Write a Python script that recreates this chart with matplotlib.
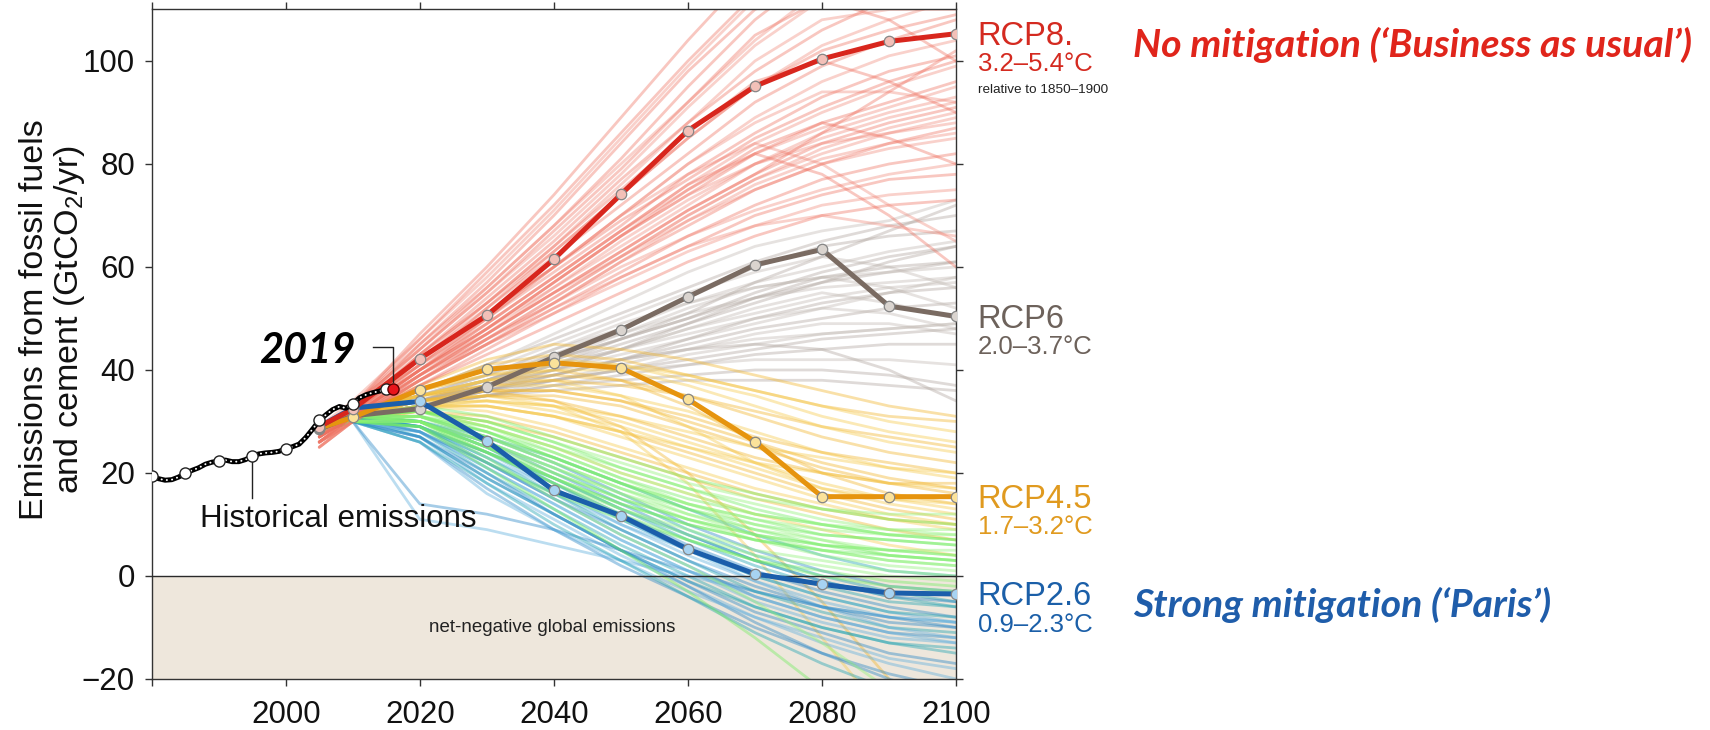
import matplotlib
matplotlib.use('Agg')
import matplotlib.pyplot as plt

plt.rcParams['font.family'] = ['Liberation Sans', 'DejaVu Sans']
plt.rcParams['mathtext.default'] = 'regular'

# ---------------- data ----------------
HIST_YEARS = list(range(1980, 2017))
HIST_VALUES = [19.4, 18.9, 18.6, 18.7, 19.2, 19.9, 20.5, 21.0, 21.7, 22.1,
               22.3, 22.5, 22.2, 22.2, 22.6, 23.3, 23.7, 23.9, 24.0, 24.2,
               24.7, 25.1, 25.6, 26.9, 28.5, 30.2, 31.3, 32.3, 32.9, 32.6,
               33.4, 34.6, 35.2, 35.6, 35.9, 36.3, 36.4]
HIST_MARKER_YEARS = [1980, 1985, 1990, 1995, 2000, 2005, 2010, 2015]
LAST_YEAR = 2016
LAST_VALUE = 36.4

RCP_YEARS = [2005, 2010, 2020, 2030, 2040, 2050, 2060, 2070, 2080, 2090, 2100]
RCP85 = [29.0, 32.4, 42.2, 50.6, 61.5, 74.1, 86.5, 95.1, 100.4, 103.8, 105.3]
RCP60 = [28.5, 31.1, 32.5, 36.7, 42.5, 47.8, 54.2, 60.4, 63.4, 52.4, 50.4]
RCP45 = [28.7, 30.8, 36.2, 40.1, 41.4, 40.4, 34.3, 26.1, 15.4, 15.4, 15.4]
RCP26 = [29.0, 32.6, 33.9, 26.2, 16.6, 11.7, 5.2, 0.4, -1.6, -3.3, -3.5]

FAN_YEARS = RCP_YEARS

RED_FAN = [
    [28, 33, 47, 60, 74, 89, 104, 118, 130, 140, 150],
    [29, 34, 46, 58, 71, 85, 99, 112, 124, 132, 140],
    [27, 32, 45, 56, 68, 81, 95, 108, 118, 126, 132],
    [28, 33, 44, 55, 66, 78, 91, 103, 112, 118, 122],
    [26, 31, 43, 54, 65, 77, 88, 98, 106, 112, 116],
    [27, 32, 43, 53, 63, 74, 85, 95, 103, 108, 112],
    [28, 32, 42, 52, 62, 72, 82, 92, 99, 104, 108],
    [26, 31, 42, 51, 60, 70, 80, 89, 96, 101, 104],
    [27, 32, 41, 50, 59, 68, 78, 86, 93, 98, 101],
    [28, 32, 41, 49, 58, 67, 76, 84, 90, 95, 99],
    [26, 31, 40, 48, 57, 66, 74, 82, 88, 92, 96],
    [27, 31, 40, 48, 56, 64, 72, 80, 86, 90, 93],
    [25, 30, 39, 47, 55, 63, 71, 78, 84, 88, 91],
    [27, 31, 39, 46, 54, 62, 70, 77, 82, 86, 89],
    [26, 30, 38, 46, 53, 61, 68, 75, 80, 84, 87],
    [28, 32, 40, 47, 55, 62, 69, 75, 80, 83, 85],
    [26, 30, 38, 45, 52, 59, 66, 72, 77, 80, 82],
    [27, 31, 39, 46, 53, 60, 66, 71, 75, 78, 80],
    [25, 30, 37, 44, 51, 58, 64, 70, 74, 77, 78],
    [27, 31, 38, 45, 51, 57, 63, 68, 72, 74, 75],
    [26, 30, 37, 43, 49, 55, 61, 66, 70, 72, 73],
    [28, 32, 41, 50, 60, 70, 78, 84, 80, 72, 65],
    [27, 31, 40, 49, 58, 67, 76, 82, 78, 70, 60],
    [26, 30, 39, 48, 57, 66, 74, 80, 84, 86, 88],
    [29, 33, 44, 55, 67, 79, 92, 105, 112, 108, 100],
    [27, 32, 42, 53, 64, 76, 88, 100, 108, 110, 110],
    [28, 33, 45, 57, 70, 84, 98, 110, 116, 118, 118],
    [26, 31, 40, 50, 60, 70, 80, 88, 94, 94, 92],
    [27, 31, 39, 47, 55, 63, 71, 78, 86, 94, 102],
    [25, 30, 38, 45, 52, 58, 64, 68, 70, 68, 66],
    [28, 33, 46, 59, 72, 86, 100, 113, 122, 128, 134],
    [27, 32, 44, 56, 68, 80, 92, 104, 114, 120, 126],
    [26, 31, 41, 52, 63, 74, 85, 95, 102, 106, 109],
    [27, 31, 40, 49, 58, 67, 75, 82, 87, 91, 95],
    [28, 32, 42, 51, 60, 69, 77, 85, 91, 96, 100],
    [26, 30, 39, 47, 56, 65, 73, 80, 85, 89, 92],
    [27, 31, 40, 48, 57, 66, 75, 83, 88, 85, 80],
    [25, 30, 38, 46, 54, 62, 70, 77, 83, 87, 90],
    [28, 32, 43, 53, 64, 75, 86, 96, 100, 96, 90],
    [26, 30, 38, 45, 53, 61, 69, 76, 81, 84, 86],
]

GRAY_FAN = [
    [29, 32, 36, 41, 46, 51, 56, 61, 65, 68, 70],
    [28, 31, 35, 39, 44, 48, 53, 57, 60, 63, 65],
    [29, 32, 35, 38, 42, 46, 50, 54, 57, 59, 61],
    [28, 31, 34, 37, 40, 44, 48, 51, 54, 56, 57],
    [29, 32, 34, 37, 39, 42, 45, 48, 50, 52, 53],
    [28, 31, 33, 36, 38, 40, 43, 45, 47, 48, 49],
    [28, 31, 33, 35, 37, 39, 41, 43, 44, 45, 45],
    [29, 32, 34, 36, 38, 40, 41, 42, 42, 42, 41],
    [28, 31, 33, 35, 36, 37, 38, 38, 38, 37, 36],
    [29, 32, 35, 38, 42, 47, 52, 56, 58, 56, 52],
    [28, 31, 34, 38, 43, 48, 54, 60, 64, 66, 67],
    [29, 32, 36, 40, 45, 50, 55, 59, 62, 60, 56],
    [28, 31, 33, 36, 39, 42, 44, 45, 44, 40, 34],
    [29, 32, 35, 39, 43, 47, 51, 54, 56, 57, 58],
    [28, 31, 34, 37, 41, 45, 49, 53, 57, 61, 64],
    [29, 32, 34, 36, 38, 41, 44, 47, 49, 49, 47],
    [28, 31, 33, 36, 40, 44, 49, 54, 58, 60, 61],
    [29, 32, 34, 37, 40, 43, 46, 49, 52, 55, 58],
    [28, 31, 33, 35, 37, 38, 39, 40, 40, 39, 37],
    [29, 32, 36, 41, 47, 53, 59, 64, 67, 69, 73],
    [28, 31, 34, 38, 42, 46, 50, 55, 59, 62, 64],
    [29, 32, 35, 39, 44, 49, 53, 56, 58, 59, 60],
    [28, 31, 33, 36, 39, 42, 46, 50, 53, 55, 56],
    [29, 32, 34, 37, 40, 42, 44, 46, 47, 48, 49],
    [28, 31, 34, 37, 41, 46, 51, 57, 62, 67, 72],
    [29, 32, 35, 38, 41, 44, 47, 50, 52, 51, 48],
    [28, 31, 33, 35, 38, 40, 42, 44, 46, 47, 48],
    [29, 32, 35, 38, 41, 44, 48, 52, 55, 53, 50],
]

YELLOW_FAN = [
    [28, 31, 37, 42, 45, 44, 42, 39, 36, 33, 31],
    [29, 32, 36, 40, 42, 41, 38, 35, 31, 28, 26],
    [28, 31, 35, 38, 39, 38, 35, 31, 27, 24, 22],
    [29, 32, 35, 37, 37, 35, 32, 28, 24, 21, 19],
    [28, 31, 34, 35, 35, 33, 29, 25, 21, 18, 16],
    [29, 31, 34, 34, 33, 30, 26, 22, 18, 15, 13],
    [28, 30, 33, 33, 31, 28, 24, 20, 16, 13, 11],
    [28, 31, 33, 32, 29, 25, 21, 17, 14, 11, 9],
    [29, 31, 32, 30, 27, 23, 19, 15, 12, 9, 7],
    [28, 30, 32, 29, 25, 20, 16, 12, 9, 6, 4],
    [29, 32, 36, 39, 40, 38, 33, 26, 20, 16, 14],
    [28, 31, 35, 38, 38, 35, 29, 22, 17, 15, 14],
    [29, 32, 35, 36, 34, 29, 20, 8, -5, -20, -35],
    [28, 31, 34, 35, 33, 28, 18, 4, -12, -28, -44],
    [29, 31, 34, 36, 36, 34, 31, 27, 24, 22, 20],
    [28, 31, 33, 34, 33, 31, 28, 25, 23, 21, 20],
    [29, 32, 35, 37, 38, 37, 35, 32, 29, 27, 25],
    [28, 30, 33, 33, 31, 28, 25, 22, 20, 18, 17],
    [28, 31, 36, 41, 43, 42, 39, 36, 33, 31, 30],
    [29, 32, 35, 38, 40, 40, 37, 33, 29, 26, 24],
    [28, 31, 34, 36, 36, 34, 30, 26, 22, 19, 17],
    [29, 31, 33, 34, 32, 29, 25, 21, 17, 14, 12],
    [28, 30, 32, 31, 28, 24, 20, 16, 13, 11, 10],
    [29, 32, 36, 39, 41, 41, 39, 36, 33, 30, 28],
    [28, 31, 34, 35, 34, 31, 27, 23, 20, 18, 18],
    [29, 31, 33, 33, 31, 27, 23, 19, 15, 12, 10],
]

GREEN_FAN = [
    [28, 31, 33, 31, 27, 23, 19, 16, 13, 11, 10],
    [29, 31, 32, 29, 25, 21, 17, 14, 11, 9, 8],
    [28, 30, 31, 28, 23, 18, 14, 11, 8, 7, 6],
    [28, 31, 31, 26, 21, 16, 12, 9, 7, 5, 4],
    [29, 31, 30, 25, 19, 14, 10, 7, 5, 3, 2],
    [28, 30, 30, 24, 18, 13, 9, 5, 3, 1, 0],
    [28, 30, 29, 22, 16, 11, 7, 3, 1, -1, -2],
    [29, 31, 30, 23, 15, 8, 2, -5, -13, -22, -30],
    [28, 30, 29, 21, 13, 5, -3, -12, -22, -32, -40],
    [28, 31, 32, 30, 26, 22, 18, 15, 13, 12, 12],
    [29, 31, 31, 27, 22, 17, 13, 10, 8, 7, 6],
    [28, 30, 30, 26, 20, 15, 11, 8, 6, 5, 5],
    [28, 31, 31, 28, 24, 19, 15, 12, 10, 8, 7],
    [29, 31, 30, 26, 21, 16, 11, 7, 4, 2, 1],
    [28, 30, 29, 24, 19, 14, 10, 7, 5, 4, 3],
    [29, 31, 32, 29, 24, 19, 14, 10, 7, 4, 3],
    [28, 31, 32, 30, 26, 21, 17, 13, 10, 8, 7],
    [29, 31, 31, 27, 23, 18, 14, 11, 9, 8, 8],
    [28, 30, 30, 25, 20, 15, 11, 8, 6, 4, 3],
    [28, 31, 31, 27, 22, 17, 12, 8, 5, 3, 2],
    [29, 31, 30, 24, 18, 12, 7, 3, 0, -2, -3],
    [28, 30, 31, 29, 25, 20, 16, 12, 10, 9, 9],
    [29, 31, 32, 28, 23, 18, 13, 9, 6, 5, 4],
    [28, 30, 30, 25, 19, 13, 8, 4, 2, 0, -1],
]

BLUE_FAN = [
    [28, 31, 31, 27, 22, 16, 10, 5, 1, -2, -3],
    [29, 31, 30, 25, 19, 13, 7, 2, -2, -5, -6],
    [28, 30, 29, 23, 17, 10, 4, -1, -5, -8, -9],
    [28, 31, 29, 22, 15, 8, 2, -4, -8, -11, -12],
    [29, 31, 28, 20, 13, 6, 0, -6, -10, -13, -15],
    [28, 30, 27, 18, 11, 4, -2, -8, -12, -16, -18],
    [28, 30, 26, 17, 9, 2, -4, -10, -15, -19, -22],
    [29, 31, 30, 26, 21, 15, 9, 4, 0, -3, -5],
    [28, 30, 28, 22, 16, 10, 5, 0, -4, -7, -9],
    [28, 31, 29, 24, 18, 12, 6, 1, -3, -6, -8],
    [29, 31, 27, 19, 12, 5, -1, -6, -10, -13, -14],
    [28, 30, 11, 9, 6, 3, 0, -3, -6, -8, -9],
    [28, 30, 14, 12, 9, 5, 1, -3, -6, -8, -10],
    [29, 31, 30, 27, 23, 18, 13, 8, 4, 1, 0],
    [28, 30, 28, 21, 14, 7, 1, -5, -9, -12, -13],
    [28, 30, 27, 20, 12, 5, -2, -9, -15, -20, -24],
    [29, 31, 29, 24, 19, 13, 8, 3, -1, -4, -6],
    [28, 30, 26, 16, 9, 3, -3, -8, -13, -17, -20],
    [28, 31, 30, 26, 20, 14, 8, 3, -1, -4, -5],
    [29, 31, 29, 23, 16, 9, 3, -3, -7, -10, -11],
    [28, 30, 28, 21, 14, 7, 1, -4, -8, -11, -13],
    [28, 30, 27, 19, 12, 5, -1, -7, -11, -15, -17],
    [29, 31, 30, 25, 18, 11, 5, 0, -4, -7, -8],
    [28, 30, 29, 24, 17, 11, 5, -1, -6, -10, -12],
    [28, 31, 28, 22, 15, 9, 3, -2, -6, -9, -10],
    [29, 30, 26, 18, 10, 3, -4, -11, -17, -22, -26],
]

X_TICKS = [1980, 2000, 2020, 2040, 2060, 2080, 2100]
X_TICK_LABELS = ['', '2000', '2020', '2040', '2060', '2080', '2100']
Y_TICKS = [-20, 0, 20, 40, 60, 80, 100]

# ---------------- figure ----------------
fig = plt.figure(figsize=(17.1, 7.3), dpi=100)
ax = fig.add_axes([0.0887, 0.0699, 0.4704, 0.9171])
ax.set_xlim(1980, 2100)
ax.set_ylim(-20, 110)

ax.axhspan(-20, 0, color='#EEE7DC', lw=0, zorder=0)

fan_groups = [
    (GRAY_FAN, ['#B3A9A2', '#C4BCB6'], 0.42),
    (YELLOW_FAN, ['#F2B730', '#F6CB50'], 0.42),
    (BLUE_FAN, ['#2A86C6', '#1FA2B2', '#5FAEDD'], 0.42),
    (GREEN_FAN, ['#72EC62', '#92F27A'], 0.42),
    (RED_FAN, ['#EE6452', '#F08070'], 0.36),
]
for fan, cols, a in fan_groups:
    for i, vals in enumerate(fan):
        ax.plot(FAN_YEARS, vals, color=cols[i % len(cols)], alpha=a, lw=2.0,
                zorder=2, solid_capstyle='round')

ax.axhline(0, color='#2a2a2a', lw=1.0, zorder=3)

rcp_styles = [
    (RCP60, '#7A6B62', '#DAD4CF'),
    (RCP45, '#E6940E', '#FBE29A'),
    (RCP26, '#1B5EAB', '#A7D3F2'),
    (RCP85, '#D8261D', '#F3C0B8'),
]
for vals, lc, fc in rcp_styles:
    ax.plot(RCP_YEARS, vals, color=lc, lw=3.6, zorder=4, solid_capstyle='round',
            marker='o', markersize=7.5, markerfacecolor=fc,
            markeredgecolor='#858585', markeredgewidth=0.9)

# historical
ax.plot(HIST_YEARS, HIST_VALUES, color='black', lw=3.6, zorder=5,
        solid_capstyle='round')
ax.plot(HIST_YEARS, HIST_VALUES, color='white', lw=1.4, zorder=5.1,
        linestyle=(0, (0.1, 2.6)), dash_capstyle='round')
hist_mk = [HIST_VALUES[HIST_YEARS.index(y)] for y in HIST_MARKER_YEARS]
ax.plot(HIST_MARKER_YEARS, hist_mk, linestyle='none', marker='o', markersize=8,
        markerfacecolor='white', markeredgecolor='#222222', markeredgewidth=1.0,
        zorder=6)
ax.plot([LAST_YEAR], [LAST_VALUE], linestyle='none', marker='o', markersize=8,
        markerfacecolor='#E8141B', markeredgecolor='#5a0000', markeredgewidth=1.0,
        zorder=6.5)

# annotations
ax.plot([1995, 1995], [22.6, 15.1], color='#222222', lw=1.0, zorder=5)
ax.text(1987.2, 9.5, 'Historical emissions', fontsize=22.5, color='#111111',
        ha='left', va='baseline', zorder=7)
ax.plot([2013.0, 2016.0, 2016.0], [44.5, 44.5, 37.6], color='#222222', lw=1.0,
        zorder=5)
ax.text(1996.0, 41.3, '2019', fontfamily='Lato', fontweight='bold',
        fontstyle='italic', fontsize=30, color='black', ha='left',
        va='baseline', zorder=7)
ax.text(2039.8, -10.9, 'net-negative global emissions', fontsize=13.5,
        color='#222222', ha='center', va='baseline', zorder=7)

# right-side RCP labels
labels = [
    (RCP85, 'RCP8.', '3.2–5.4°C', '#D42A20'),
    (RCP60, 'RCP6', '2.0–3.7°C', '#6D625B'),
    (RCP45, 'RCP4.5', '1.7–3.2°C', '#E09A1F'),
    (RCP26, 'RCP2.6', '0.9–2.3°C', '#1B5FA8'),
]
for vals, name, rng, col in labels:
    ax.annotate(name, xy=(RCP_YEARS[-1], vals[-1]), xytext=(15.5, -8),
                textcoords='offset points', fontsize=23.5, color=col,
                ha='left', va='baseline', annotation_clip=False)
    ax.annotate(rng, xy=(RCP_YEARS[-1], vals[-1]), xytext=(15.5, -27),
                textcoords='offset points', fontsize=18.5, color=col,
                ha='left', va='baseline', annotation_clip=False)
ax.annotate('relative to 1850–1900', xy=(RCP_YEARS[-1], RCP85[-1]),
            xytext=(15.5, -42.5), textcoords='offset points', fontsize=9.7,
            color='#222222', ha='left', va='baseline', annotation_clip=False)

# axes styling
for sp in ax.spines.values():
    sp.set_color('#333333')
    sp.set_linewidth(1.0)
ax.set_xticks(X_TICKS)
ax.set_xticklabels(X_TICK_LABELS)
ax.set_yticks(Y_TICKS)
ax.tick_params(axis='both', direction='out', length=5, width=1.0,
               color='#333333', labelsize=22.5, labelcolor='#111111',
               top=True, right=True, labeltop=False, labelright=False)
ax.tick_params(axis='x', pad=10)
ax.tick_params(axis='y', pad=7)

fig.text(0.031, 0.5616,
         'Emissions from fossil fuels\nand cement (GtCO$_2$/yr)',
         rotation=90, ha='center', va='center', multialignment='center',
         fontsize=24.5, linespacing=1.1, color='#111111')

fig.text(1133 / 1710, 1 - 56.7 / 730, 'No mitigation (‘Business as usual’)',
         fontfamily='Lato', fontweight='bold', fontstyle='italic', fontsize=28.3,
         color='#E0251B', ha='left', va='baseline')
fig.text(1133 / 1710, 1 - 616.7 / 730, 'Strong mitigation (‘Paris’)',
         fontfamily='Lato', fontweight='bold', fontstyle='italic', fontsize=28.3,
         color='#1F5DAA', ha='left', va='baseline')

fig.savefig('out.png', dpi=100)
